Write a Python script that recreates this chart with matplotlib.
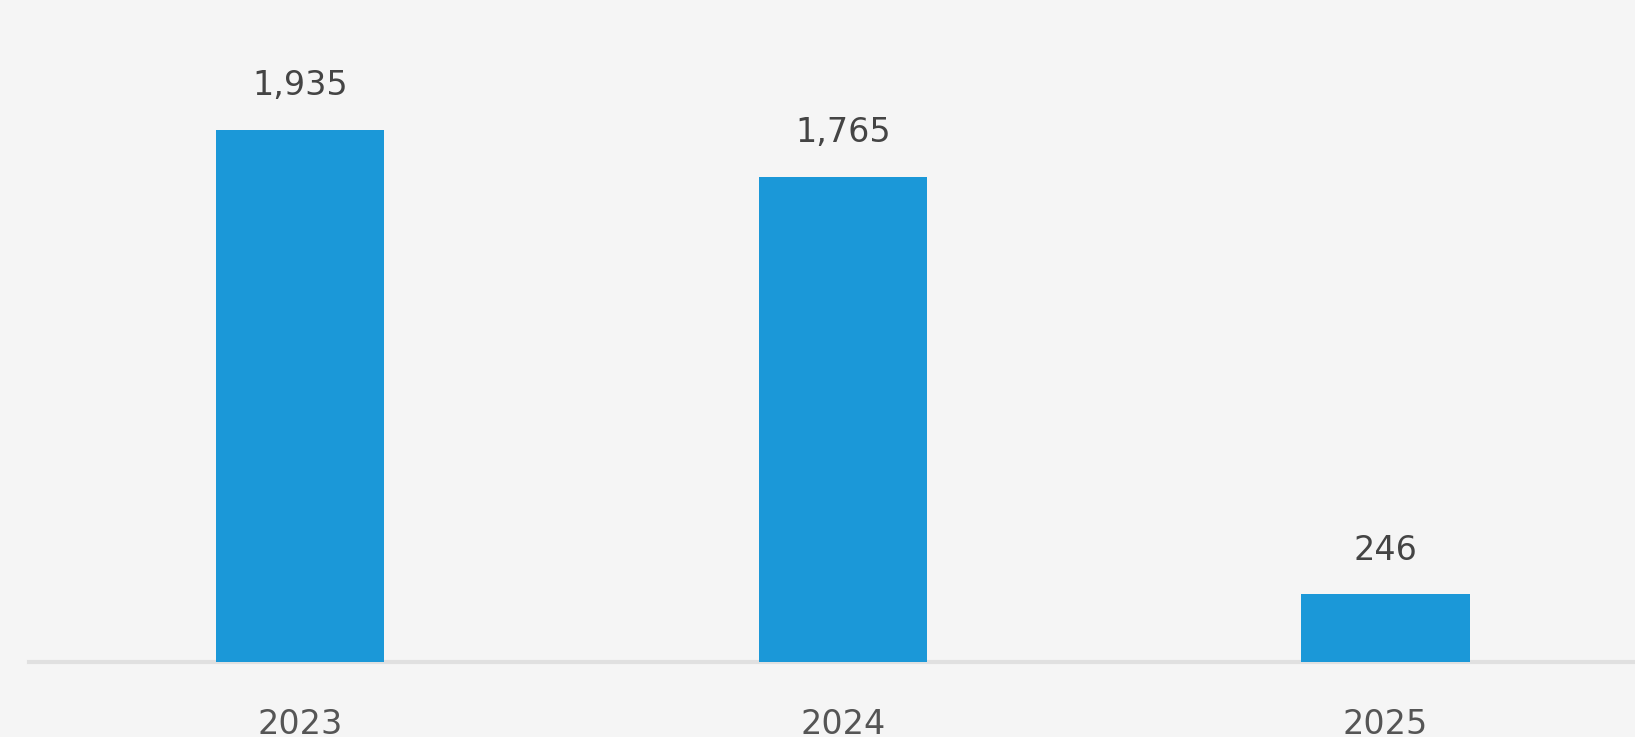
import matplotlib
matplotlib.use('Agg')
import matplotlib.pyplot as plt

# data
years = ['2023', '2024', '2025']
counts = [1935, 1765, 246]

BAR_COLOR = '#1b98d8'
BG = '#f5f5f5'

fig = plt.figure(figsize=(16.35, 7.37), dpi=100, facecolor=BG)
ax = fig.add_axes([29 / 1635, 75 / 737, 1 - 29 / 1635, 662 / 737])
ax.set_facecolor(BG)

x = range(len(years))
bars = ax.bar(x, counts, width=0.31, color=BAR_COLOR, zorder=3)

ax.set_xlim(-0.5, 2.46)
ax.set_ylim(0, 2408)

for b, v in zip(bars, counts):
    ax.annotate(f'{v:,}', (b.get_x() + b.get_width() / 2, v),
                xytext=(0, 20), textcoords='offset points',
                ha='center', va='bottom', fontsize=24, color='#444444')

ax.set_xticks(list(x))
ax.set_xticklabels(years, fontsize=24, color='#555555')
ax.tick_params(axis='x', length=0, pad=33)
ax.set_yticks([])

for s in ['top', 'right', 'left']:
    ax.spines[s].set_visible(False)
ax.spines['bottom'].set_color('#e0e0e0')
ax.spines['bottom'].set_linewidth(3)

fig.savefig('out.png', dpi=100, facecolor=BG)
